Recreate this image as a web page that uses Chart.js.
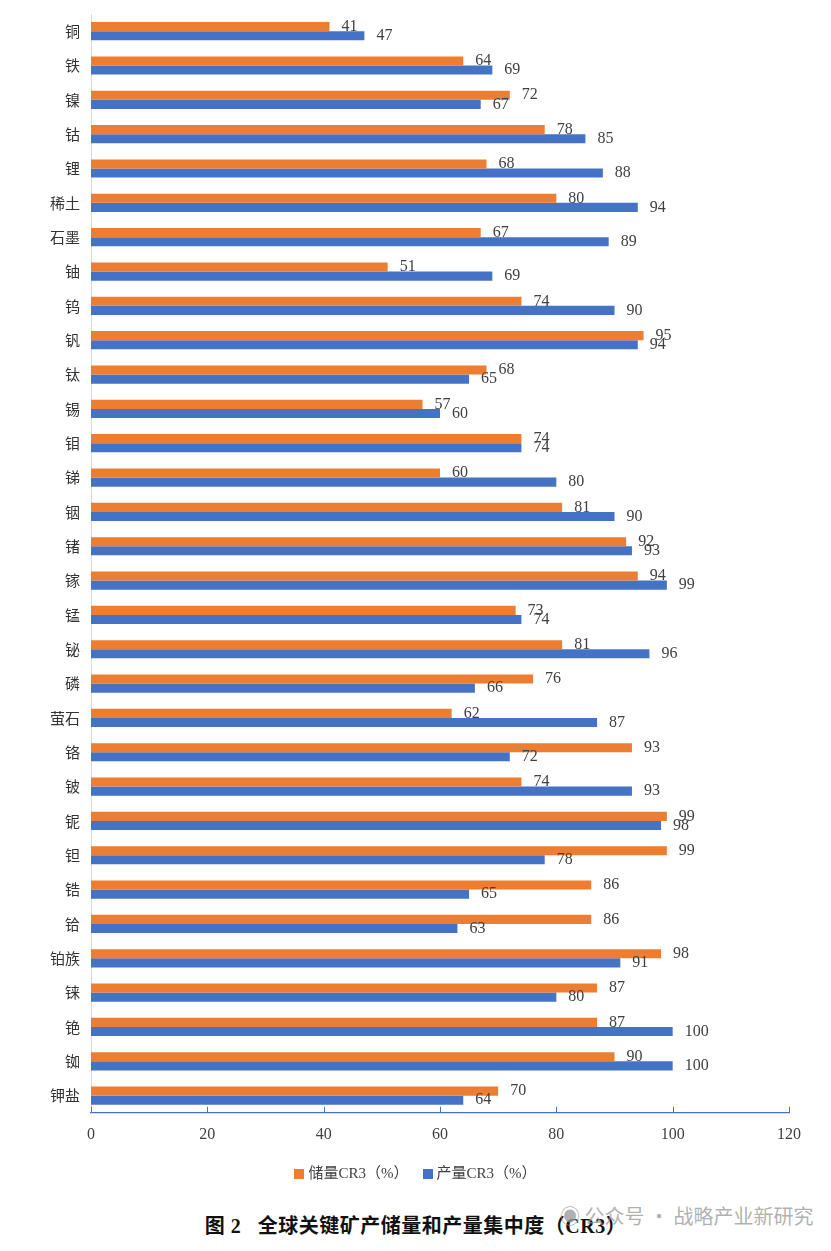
<!DOCTYPE html>
<html lang="zh">
<head>
<meta charset="utf-8">
<title>全球关键矿产储量和产量集中度（CR3）</title>
<script src="https://cdn.jsdelivr.net/npm/chart.js@4.4.1/dist/chart.umd.min.js"></script>
<style>
  body { margin: 0; background: #fff; }
  #page { position: relative; width: 831px; height: 1251px; overflow: hidden; }
  #chart-box { position: absolute; left: 0; top: 0; width: 831px; height: 1164px; }
  #legend { position: absolute; left: 0; top: 1161px; width: 831px; display: flex; justify-content: center; gap: 14px;
    font: 15px "Liberation Serif", "Noto Sans CJK SC", serif; color: #404040; }
  #legend span.sw { display: inline-block; width: 10px; height: 10px; margin-right: 4px; vertical-align: -1px; }
  #title { position: absolute; left: 0; top: 1210px; width: 831px; text-align: center;
    font: bold 20px "Liberation Serif", "Noto Sans CJK SC", serif; color: #111; letter-spacing: 0.5px; }
  #mark { position: absolute; left: 560px; top: 1201px; font: 20px "Noto Sans CJK SC", sans-serif; color: rgba(150,150,150,0.75); }
</style>
</head>
<body>
<div id="page">
  <div id="chart-box"><canvas id="chart-cr3"></canvas></div>
  <div id="legend"></div>
  <div id="title">图 2&nbsp;&nbsp;&nbsp;全球关键矿产储量和产量集中度（CR3）</div>
  <div id="mark">◉ 公众号 · 战略产业新研究</div>
</div>
<script>
// ── Data ───────────────────────────────────────────────────
const minerals = ["铜", "铁", "镍", "钴", "锂", "稀土", "石墨", "铀", "钨", "钒", "钛", "锡", "钼", "锑", "铟", "锗",
  "镓", "锰", "铋", "磷", "萤石", "铬", "铍", "铌", "钽", "锆", "铪", "铂族", "铼", "铯", "铷", "钾盐"];
const reserveCR3 = [41, 64, 72, 78, 68, 80, 67, 51, 74, 95, 68, 57, 74, 60, 81, 92,
  94, 73, 81, 76, 62, 93, 74, 99, 99, 86, 86, 98, 87, 87, 90, 70];
const outputCR3 = [47, 69, 67, 85, 88, 94, 89, 69, 90, 94, 65, 60, 74, 80, 90, 93,
  99, 74, 96, 66, 87, 72, 93, 98, 78, 65, 63, 91, 80, 100, 100, 64];
const seriesNames = ["储量CR3（%）", "产量CR3（%）"];
const xTicks = [0, 20, 40, 60, 80, 100, 120];

const ORANGE = "#ED7D31";
const BLUE = "#4472C4";
const numFont = '"Liberation Serif", "DejaVu Serif", serif';

// value labels at the bar ends
const endLabels = {
  id: "endLabels",
  afterDatasetsDraw(chart) {
    const { ctx } = chart;
    ctx.save();
    ctx.font = `16px ${numFont}`;
    ctx.fillStyle = "#404040";
    ctx.textBaseline = "middle";
    ctx.textAlign = "left";
    chart.data.datasets.forEach((ds, i) => {
      chart.getDatasetMeta(i).data.forEach((bar, j) => {
        ctx.fillText(String(ds.data[j]), bar.x + 12, bar.y);
      });
    });
    ctx.restore();
  },
};

// small tick marks pointing up from the x axis
const innerTicks = {
  id: "innerTicks",
  afterDraw(chart) {
    const { ctx } = chart;
    const x = chart.scales.x;
    ctx.save();
    ctx.strokeStyle = BLUE;
    ctx.lineWidth = 1;
    xTicks.forEach((v) => {
      const px = Math.round(x.getPixelForValue(v)) + 0.5;
      ctx.beginPath();
      ctx.moveTo(px, x.top - 6);
      ctx.lineTo(px, x.top);
      ctx.stroke();
    });
    ctx.restore();
  },
};

new Chart(document.getElementById("chart-cr3"), {
  type: "bar",
  data: {
    labels: minerals,
    datasets: [
      { label: seriesNames[0], data: reserveCR3, backgroundColor: ORANGE },
      { label: seriesNames[1], data: outputCR3, backgroundColor: BLUE },
    ],
  },
  options: {
    indexAxis: "y",
    responsive: true,
    maintainAspectRatio: false,
    animation: false,
    categoryPercentage: 0.53,
    barPercentage: 1.0,
    layout: { padding: { top: 14, right: 42, bottom: 8, left: 0 } },
    plugins: { legend: { display: false }, tooltip: { enabled: false } },
    scales: {
      x: {
        min: 0,
        max: 120,
        afterBuildTicks: (scale) => { scale.ticks = xTicks.map((v) => ({ value: v })); },
        grid: { display: false, drawTicks: false },
        border: { display: true, color: BLUE, width: 1.2 },
        ticks: { padding: 12, color: "#404040", font: { family: numFont, size: 16 } },
      },
      y: {
        afterFit: (scale) => {
          scale.width = 91;
          scale.paddingTop = 0;
          scale.paddingBottom = 0;
        },
        grid: { display: false, drawTicks: false },
        border: { display: true, color: "#D9D9D9" },
        ticks: { padding: 11, color: "#333", autoSkip: false, font: { family: '"Noto Sans CJK SC", sans-serif', size: 15 } },
      },
    },
  },
  plugins: [endLabels, innerTicks],
});

// legend
const legend = document.getElementById("legend");
[ORANGE, BLUE].forEach((c, i) => {
  const item = document.createElement("div");
  item.innerHTML = `<span class="sw" style="background:${c}"></span>${seriesNames[i]}`;
  legend.appendChild(item);
});
</script>
</body>
</html>
